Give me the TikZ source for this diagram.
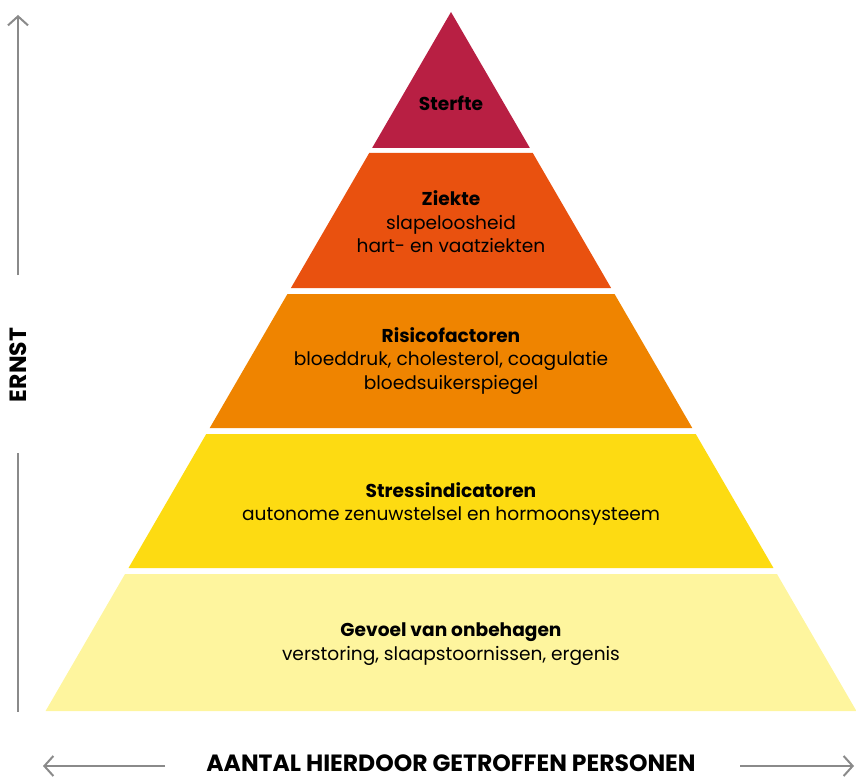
\documentclass[tikz,border=0pt]{standalone}
\usepackage{fontspec}
\setmainfont{Poppins}
\usetikzlibrary{arrows.meta}
\definecolor{cRed}{HTML}{B81F43}
\definecolor{cOrRed}{HTML}{E9510F}
\definecolor{cOrange}{HTML}{EF8400}
\definecolor{cYellow}{HTML}{FDDB12}
\definecolor{cLight}{HTML}{FEF59E}
\definecolor{cGray}{HTML}{8A8A8A}
\tikzset{
  x=1pt,y=-1pt,
  bandtext/.style={align=center,font=\fontsize{18.6}{23.5}\selectfont,text=black,inner sep=0pt},
  axisline/.style={draw=cGray,line width=2.2pt},
  axistip/.style={-{Straight Barb[length=9pt,width=20pt,line width=2pt]}},
  axislabel/.style={font=\bfseries\fontsize{23.5}{26}\selectfont,text=black,inner sep=0pt}
}
\newcommand{\band}[3]{%
  \fill[#3] ({451-0.58*(#1-12)},#1) -- ({451+0.58*(#1-12)},#1) -- ({451+0.58*(#2-12)},#2) -- ({451-0.58*(#2-12)},#2) -- cycle;}
\begin{document}
\begin{tikzpicture}
\useasboundingbox (0,0) rectangle (856,778);
\band{12}{148}{cRed}
\band{153}{288}{cOrRed}
\band{294}{428}{cOrange}
\band{434}{568}{cYellow}
\band{574}{711}{cLight}
\node[bandtext] (t1) at (451,103) {\textbf{Sterfte}};
\node[bandtext] (t2) at (451,222) {\textbf{Ziekte}\\slapeloosheid\\hart- en vaatziekten};
\node[bandtext] (t3) at (451,361) {\textbf{Risicofactoren}\\bloeddruk, cholesterol, coagulatie\\bloedsuikerspiegel};
\node[bandtext] (t4) at (451,504) {\textbf{Stressindicatoren}\\autonome zenuwstelsel en hormoonsysteem};
\node[bandtext] (t5) at (451,644) {\textbf{Gevoel van onbehagen}\\verstoring, slaapstoornissen, ergenis};
% vertical axis
\coordinate (vtop) at (18,15);
\coordinate (vmid1) at (18,275);
\coordinate (vmid2) at (18,453);
\coordinate (vbot) at (18,712);
\node[axislabel,rotate=90] (ernst) at (18,365) {ERNST};
\draw[axisline,axistip] (vmid1) -- (vtop);
\draw[axisline] (vmid2) -- (vbot);
% horizontal axis
\node[axislabel] (aantal) at (451,763) {AANTAL HIERDOOR GETROFFEN PERSONEN};
\coordinate (hl1) at (165,766);
\coordinate (hl0) at (43,766);
\coordinate (hr1) at (740,766);
\coordinate (hr0) at (854,766);
\draw[axisline,axistip] (hl1) -- (hl0);
\draw[axisline,axistip] (hr1) -- (hr0);
\end{tikzpicture}
\end{document}
